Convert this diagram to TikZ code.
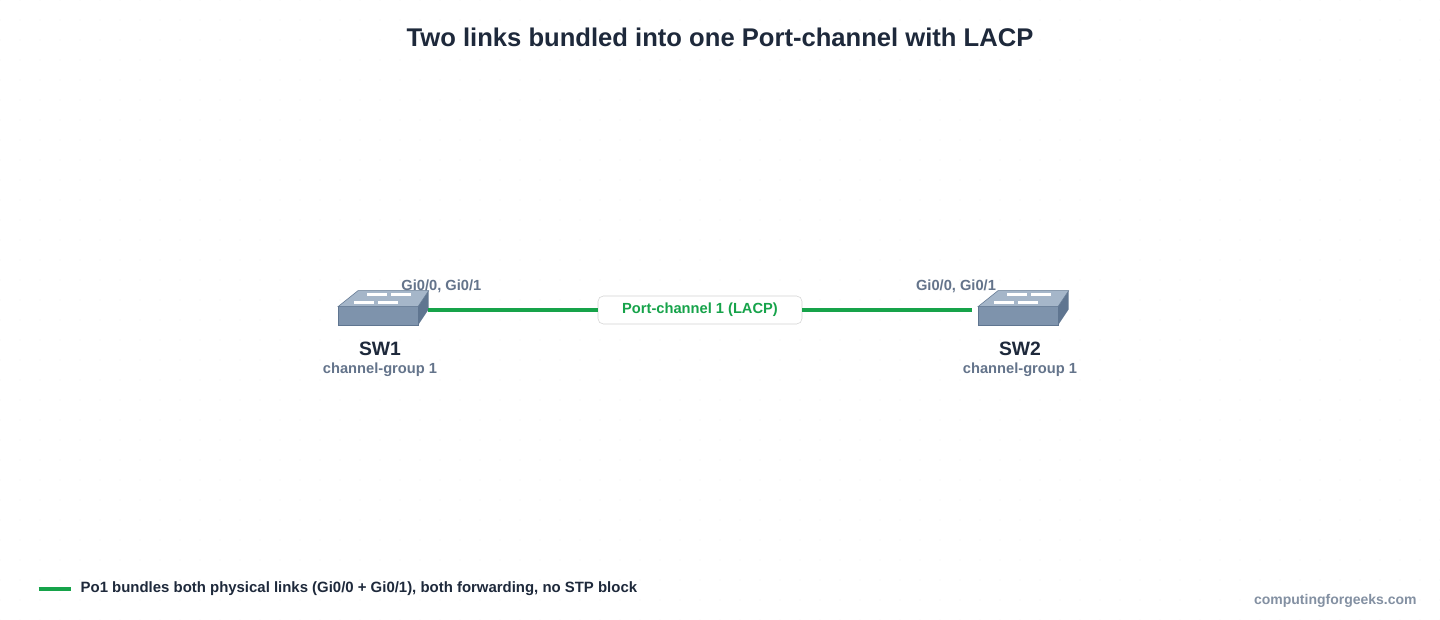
\documentclass[tikz,border=0pt]{standalone}
\usepackage{fontspec}
\setmainfont{Liberation Sans}
\begin{document}
\begin{tikzpicture}[x=1pt,y=-1pt,
  lbl/.style={font=\bfseries\fontsize{11}{12}\selectfont,text=slate},
  nm/.style={font=\bfseries\fontsize{14.5}{16}\selectfont,text=dark},
  link/.style={draw=grn,line width=3pt}]
\definecolor{slate}{HTML}{64748B}
\definecolor{dark}{HTML}{1E293B}
\definecolor{grn}{HTML}{16A34A}
\definecolor{swf}{HTML}{7E93AC}
\definecolor{swt}{HTML}{A5B6C9}
\definecolor{sws}{HTML}{5F7590}
\useasboundingbox (0,0) rectangle (1080,465);
\fill[white] (0,0) rectangle (1080,465);
\foreach \x in {0,15,...,1080}{\foreach \y in {0,15,...,465}{\fill[gray!12] (\x,\y) circle (0.4);}}
\node[font=\bfseries\fontsize{19.2}{22}\selectfont,text=dark] (title) at (540,28) {Two links bundled into one Port-channel with LACP};
\newcommand{\swicon}[2]{%
 \begin{scope}[shift={(#1,#2)}]
 \fill[swf,draw=sws,line width=0.4] (0,12) rectangle (60,26);
 \fill[sws] (60,12) -- (68,0) -- (68,14) -- (60,26) -- cycle;
 \fill[swt,draw=sws,line width=0.4] (0,12) -- (15,0) -- (68,0) -- (60,12) -- cycle;
 \draw[white,line width=1.8] (12,9)--(27,9) (40,3)--(55,3) (22,3)--(37,3) (30,9)--(45,9);
 \end{scope}}
\swicon{253.5}{218}
\swicon{733.5}{218}
\coordinate (s1) at (321,232.5);
\coordinate (s2) at (729,232.5);
\node[draw=gray!35,fill=white,rounded corners=4pt,minimum width=153,minimum height=21,font=\bfseries\fontsize{11}{12}\selectfont,text=grn] (pc) at (525,232.5) {Port-channel 1 (LACP)};
\draw[link] (s1) -- (pc.west);
\draw[link] (pc.east) -- (s2);
\node[lbl] (g1) at (331,215) {Gi0/0, Gi0/1};
\node[lbl] (g2) at (717,215) {Gi0/0, Gi0/1};
\node[nm] (sw1) at (285,262) {SW1};
\node[lbl] (c1) at (285,277.5) {channel-group 1};
\node[nm] (sw2) at (765,262) {SW2};
\node[lbl] (c2) at (765,277.5) {channel-group 1};
\coordinate (l1) at (29,442);
\coordinate (l2) at (53,442);
\draw[link] (l1) -- (l2);
\node[anchor=west,font=\bfseries\fontsize{11.2}{12}\selectfont,text=dark] (leg) at (57,441.5) {Po1 bundles both physical links (Gi0/0 + Gi0/1), both forwarding, no STP block};
\node[anchor=east,font=\bfseries\fontsize{10.5}{12}\selectfont,text=slate!80] (cfg) at (1066,451) {computingforgeeks.com};
\end{tikzpicture}
\end{document}
